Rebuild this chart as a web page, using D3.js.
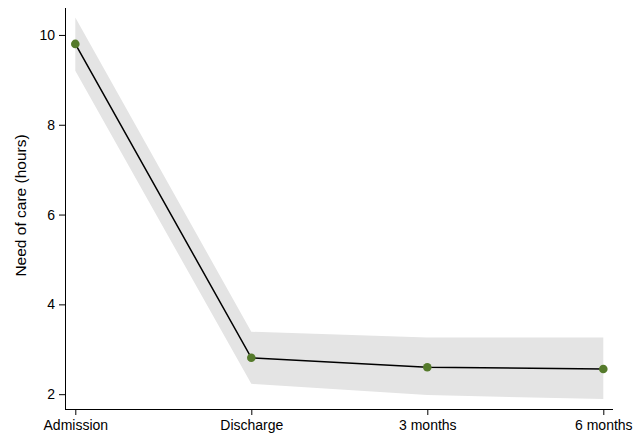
<!DOCTYPE html>
<html><head><meta charset="utf-8">
<script src="https://cdn.jsdelivr.net/npm/d3@7"></script>
<style>body{margin:0;background:#fff}svg{display:block}text{font-family:"Liberation Sans",Arial,sans-serif;fill:#000}</style>
</head><body>
<svg id="c" width="644" height="434"></svg>
<script>
const categories = ["Admission","Discharge","3 months","6 months"];
const means = [9.8, 2.81, 2.6, 2.56];
const lower = [9.2, 2.23, 1.98, 1.89];
const upper = [10.39, 3.39, 3.26, 3.26];
const yTicks = [2,4,6,8,10];

const svg = d3.select("#c");
const x = d3.scalePoint().domain(categories).range([75.3, 603.3]);
const y = d3.scaleLinear().domain([1.67, 10.6]).range([409, 8]);
const data = categories.map((c,i)=>({c, m:means[i], lo:lower[i], hi:upper[i]}));

svg.append("path").datum(data)
  .attr("fill","#e4e4e4")
  .attr("d", d3.area().x(d=>x(d.c)).y0(d=>y(d.lo)).y1(d=>y(d.hi)));

svg.append("path").datum(data)
  .attr("fill","none").attr("stroke","#000").attr("stroke-width",1.5)
  .attr("d", d3.line().x(d=>x(d.c)).y(d=>y(d.m)));

svg.selectAll("circle.pt").data(data).join("circle")
  .attr("cx",d=>x(d.c)).attr("cy",d=>y(d.m)).attr("r",4.3)
  .attr("fill","#557a2b");

// y axis
const ya = svg.append("g").attr("transform","translate(65,0)")
  .call(d3.axisLeft(y).tickValues(yTicks).tickSize(6).tickPadding(4).tickFormat(d3.format("d")));
ya.select(".domain").attr("d","M0.5,8V409.5").attr("stroke","#000");
ya.selectAll(".tick line").attr("stroke","#000");
ya.selectAll(".tick text").style("font-size","14px");

// x axis
const xa = svg.append("g").attr("transform","translate(0,409)")
  .call(d3.axisBottom(x).tickSize(6).tickPadding(5));
xa.select(".domain").attr("d","M65,0.5H613").attr("stroke","#000");
xa.selectAll(".tick line").attr("stroke","#000");
xa.selectAll(".tick text").style("font-size","14px").attr("dy","0.71em");

svg.append("text")
  .attr("transform","translate(26,205.5) rotate(-90)")
  .attr("text-anchor","middle").style("font-size","15.5px")
  .text("Need of care (hours)");
</script>
</body></html>
